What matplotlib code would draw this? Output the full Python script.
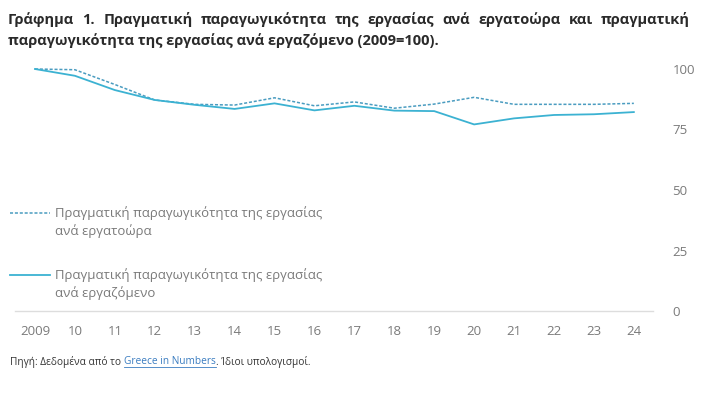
import matplotlib
matplotlib.use("Agg")
import matplotlib.pyplot as plt
from matplotlib.lines import Line2D

plt.rcParams['font.family'] = ['Open Sans', 'DejaVu Sans']

years = list(range(2009, 2025))
tick_labels = ['2009', '10', '11', '12', '13', '14', '15', '16', '17',
               '18', '19', '20', '21', '22', '23', '24']
per_hour = [100, 99.7, 93.6, 87.2, 85.4, 85.1, 88.1, 84.8, 86.4,
            83.8, 85.5, 88.3, 85.4, 85.4, 85.4, 85.8]
per_worker = [100, 97.2, 91.3, 87.2, 85.2, 83.5, 85.8, 82.9, 84.8,
              82.8, 82.6, 77.1, 79.6, 81.0, 81.3, 82.2]
yticks = [0, 25, 50, 75, 100]

label_hour = "Πραγματική παραγωγικότητα της εργασίας\nανά εργατοώρα"
label_worker = "Πραγματική παραγωγικότητα της εργασίας\nανά εργαζόμενο"
title1 = "Γράφημα 1. Πραγματική παραγωγικότητα της εργασίας ανά εργατοώρα και πραγματική"
title2 = "παραγωγικότητα της εργασίας ανά εργαζόμενο (2009=100)."

line_col = '#3cb2d2'
dash_col = '#4a9cc0'
grey = '#7a7a7a'

fig = plt.figure(figsize=(7.02, 3.96), dpi=100)
ax = fig.add_axes([15/702, 1 - 311/396, (653 - 15)/702, 242/396])

ax.plot(years, per_hour, color=dash_col, lw=1.1, ls=(0, (2, 1.2)), clip_on=False)
ax.plot(years, per_worker, color=line_col, lw=1.3, clip_on=False)

ax.set_xlim(2008.5, 2024.48)
ax.set_ylim(0, 100)
ax.set_xticks(years)
ax.set_xticklabels(tick_labels)
ax.set_yticks(yticks)
ax.yaxis.tick_right()
ax.tick_params(axis='both', length=0, labelsize=9.5, colors=grey)
ax.tick_params(axis='y', pad=14)
ax.tick_params(axis='x', pad=10)
for s in ['top', 'left', 'right']:
    ax.spines[s].set_visible(False)
ax.spines['bottom'].set_color('#dddddd')
ax.spines['bottom'].set_linewidth(1)

def fx(px):
    return px / 702
def fy(py):
    return 1 - py / 396

# legend
fig.add_artist(Line2D([fx(10), fx(50)], [fy(213), fy(213)], color=dash_col,
                      lw=1.1, ls=(0, (2, 1.2))))
fig.text(fx(55), fy(206), label_hour, fontsize=9.5, color=grey, va='top',
         linespacing=1.4)
fig.add_artist(Line2D([fx(10), fx(50)], [fy(275), fy(275)], color=line_col, lw=1.3))
fig.text(fx(55), fy(268), label_worker, fontsize=9.5, color=grey, va='top',
         linespacing=1.4)

fig.canvas.draw()
r = fig.canvas.get_renderer()
inv = fig.transFigure.inverted()

# title, first line justified
tstyle = dict(fontsize=10.5, fontweight='bold', color='#2a2a2a', va='baseline')
words = title1.split(' ')
objs = [fig.text(0, fy(24), w, **tstyle) for w in words]
widths = [o.get_window_extent(renderer=r).transformed(inv).width for o in objs]
gap = (fx(690) - fx(8) - sum(widths)) / (len(words) - 1)
x = fx(8)
for o, w in zip(objs, widths):
    o.set_x(x)
    x += w + gap
fig.text(fx(8), fy(45), title2, **tstyle)

# source
x0 = fx(10)
yy = fy(362)
parts = [("Πηγή: Δεδομένα από το ", '#333333', False),
         ("Greece in Numbers", '#3a7cc0', True),
         (". Ίδιοι υπολογισμοί.", '#333333', False)]
for txt, col, ul in parts:
    t = fig.text(x0, yy, txt, fontsize=7.3, color=col, va='center')
    bb = t.get_window_extent(renderer=r).transformed(inv)
    if ul:
        fig.add_artist(Line2D([bb.x0, bb.x1], [bb.y0 + 0.002, bb.y0 + 0.002],
                              color=col, lw=0.6))
    x0 = bb.x1

fig.savefig("out.png", dpi=100)
